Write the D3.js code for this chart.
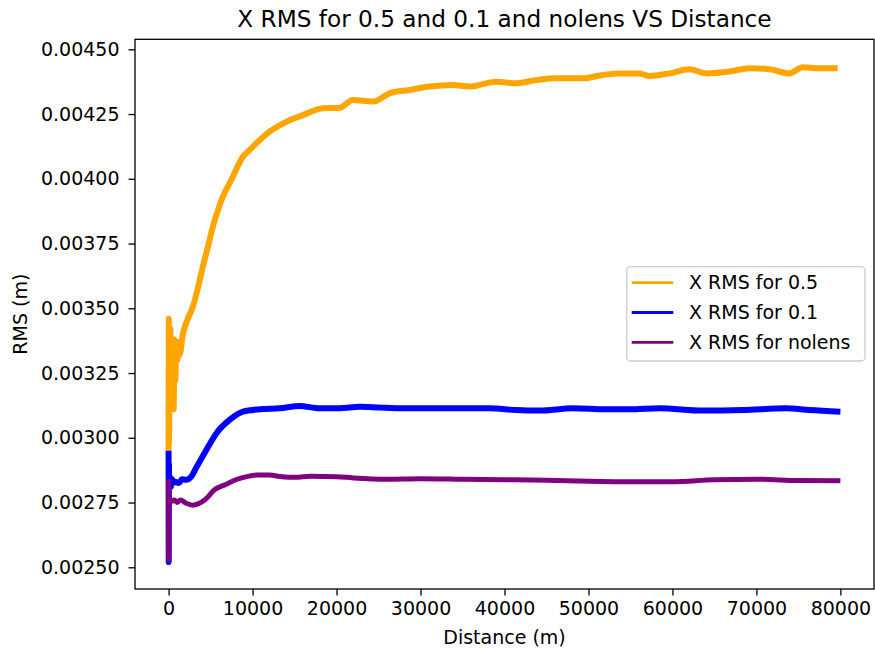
<!DOCTYPE html>
<html>
<head>
<meta charset="utf-8">
<script src="https://cdn.jsdelivr.net/npm/d3@7"></script>
<style>
  html, body { margin: 0; padding: 0; background: #fff; }
  svg { display: block; font-family: "DejaVu Sans", sans-serif; }
</style>
</head>
<body>
<svg id="chart" width="875" height="655"></svg>
<script>
// Distance (m) / RMS (m) pairs for each lens setting
const rms05 = [
  [0,0.00295],[25,0.00346],[60,0.00298],[110,0.00340],[170,0.00320],[220,0.00342],
  [280,0.00315],[340,0.00338],[420,0.00318],[500,0.00336],[600,0.00311],[700,0.00338],
  [800,0.00322],[900,0.00335],[1040,0.00330],[1150,0.00337],[1310,0.00332],[1700,0.00340],
  [2300,0.00346],[2890,0.003506],[3500,0.00358],[4080,0.003661],[4700,0.00374],
  [5270,0.003815],[5900,0.00388],[6460,0.003931],[7050,0.00397],[7650,0.004008],
  [8250,0.00405],[8850,0.004085],[9600,0.00411],[10440,0.004137],[12020,0.004182],
  [14010,0.00422],[15990,0.004246],[18370,0.004272],[20360,0.004274],[21940,0.004304],
  [24320,0.004298],[26310,0.00433],[28690,0.004343],[31070,0.004356],[33850,0.004362],
  [35830,0.004356],[39010,0.004375],[41390,0.004369],[43770,0.004381],[46150,0.004388],
  [49320,0.004388],[51700,0.004401],[53690,0.004407],[56070,0.004407],[57260,0.004397],
  [59640,0.004407],[62020,0.004423],[64010,0.004407],[66790,0.004414],[69170,0.004427],
  [71550,0.004423],[73930,0.004407],[75510,0.004431],[77500,0.004427],[79680,0.004427]
];
const rms01 = [
  [0,0.00295],[15,0.00252],[40,0.00290],[80,0.00281],[150,0.00285],[250,0.00281],
  [400,0.00284],[510,0.002825],[800,0.00283],[1200,0.002825],[1600,0.00284],[2100,0.002838],
  [2700,0.00285],[3300,0.002885],[4490,0.002953],[5680,0.003017],[7260,0.003069],
  [8850,0.003101],[10830,0.00311],[13210,0.003114],[15600,0.003123],[17980,0.003114],
  [20360,0.003114],[22740,0.00312],[25120,0.003117],[27500,0.003114],[30000,0.003114],
  [33000,0.003114],[38210,0.003114],[41390,0.003107],[44170,0.003105],[48130,0.003114],
  [52110,0.00311],[54880,0.00311],[58450,0.003114],[63610,0.003105],[68370,0.003107],
  [73540,0.003114],[76310,0.003107],[80000,0.003101]
];
const rmsNolens = [
  [0,0.00284],[10,0.00253],[30,0.00278],[80,0.00274],[200,0.00276],[400,0.002755],
  [700,0.00276],[1000,0.00275],[1400,0.00276],[2100,0.002747],[2900,0.00274],
  [3500,0.002745],[4300,0.00276],[5500,0.00280],[6800,0.00282],[8000,0.002838],
  [9300,0.00285],[10500,0.002856],[12000,0.002856],[13500,0.00285],[15000,0.002848],
  [17000,0.002852],[20000,0.00285],[22000,0.002845],[26000,0.00284],[30000,0.002842],
  [35000,0.00284],[40000,0.002838],[45000,0.002836],[50000,0.002832],[55000,0.00283],
  [60000,0.00283],[65000,0.002838],[70000,0.00284],[75000,0.002835],[80000,0.002834]
];

const seriesNames = ["X RMS for 0.5", "X RMS for 0.1", "X RMS for nolens"];
const seriesColors = ["orange", "blue", "purple"];
const xTicks = [0, 10000, 20000, 30000, 40000, 50000, 60000, 70000, 80000];
const yTicks = [0.0025, 0.00275, 0.003, 0.00325, 0.0035, 0.00375, 0.004, 0.00425, 0.0045];

const plot = { left: 135, right: 874, top: 39.3, bottom: 589 };

const svg = d3.select("#chart");

const x = d3.scaleLinear().domain([-4000, 84000]).range([plot.left, plot.right]);
const y = d3.scaleLinear().domain([0.0024162, 0.0045386]).range([plot.bottom, plot.top]);

svg.append("defs").append("clipPath").attr("id", "plot-clip")
  .append("rect")
  .attr("x", plot.left).attr("y", plot.top)
  .attr("width", plot.right - plot.left).attr("height", plot.bottom - plot.top);

// series lines
const line = d3.line().x(d => x(d[0])).y(d => y(d[1])).curve(d3.curveMonotoneX);
const allSeries = [rms05, rms01, rmsNolens];
const widths = [6, 6, 5];
const lines = svg.append("g").attr("clip-path", "url(#plot-clip)");
allSeries.forEach((s, i) => {
  lines.append("path")
    .datum(s)
    .attr("d", line)
    .attr("fill", "none")
    .attr("stroke", seriesColors[i])
    .attr("stroke-width", widths[i])
    .attr("stroke-linejoin", "round")
    .attr("stroke-linecap", "butt");
});

// axes
const xAxis = d3.axisBottom(x).tickValues(xTicks).tickFormat(d3.format("d")).tickSize(6.5).tickPadding(6);
const yAxis = d3.axisLeft(y).tickValues(yTicks).tickFormat(d3.format(".5f")).tickSize(6.5).tickPadding(9);

const gx = svg.append("g").attr("transform", `translate(0,${plot.bottom})`).call(xAxis);
const gy = svg.append("g").attr("transform", `translate(${plot.left},0)`).call(yAxis);
[gx, gy].forEach(g => {
  g.select(".domain").remove();
  g.selectAll(".tick line").attr("stroke", "#000").attr("stroke-width", 1.3);
  g.selectAll(".tick text").attr("fill", "#000").style("font-size", "19px").style("font-family", "DejaVu Sans");
});

// frame
svg.append("rect")
  .attr("x", plot.left).attr("y", plot.top)
  .attr("width", plot.right - plot.left).attr("height", plot.bottom - plot.top)
  .attr("fill", "none").attr("stroke", "#000").attr("stroke-width", 1.3);

// title and axis labels
svg.append("text")
  .attr("x", (plot.left + plot.right) / 2).attr("y", 27)
  .attr("text-anchor", "middle").style("font-size", "23.2px")
  .text("X RMS for 0.5 and 0.1 and nolens VS Distance");

svg.append("text")
  .attr("x", (plot.left + plot.right) / 2).attr("y", 644)
  .attr("text-anchor", "middle").style("font-size", "19px")
  .text("Distance (m)");

svg.append("text")
  .attr("transform", `translate(27,${(plot.top + plot.bottom) / 2}) rotate(-90)`)
  .attr("text-anchor", "middle").style("font-size", "19px")
  .text("RMS (m)");

// legend
const legend = svg.append("g").attr("transform", "translate(626.7,266.7)");
legend.append("rect")
  .attr("width", 238.3).attr("height", 94.3).attr("rx", 4)
  .attr("fill", "#fff").attr("fill-opacity", 0.8)
  .attr("stroke", "#cccccc").attr("stroke-width", 1.3);
seriesNames.forEach((name, i) => {
  const yy = 16 + i * 29.8;
  legend.append("line")
    .attr("x1", 5).attr("x2", 46.6).attr("y1", yy).attr("y2", yy)
    .attr("stroke", seriesColors[i]).attr("stroke-width", 2.8);
  legend.append("text")
    .attr("x", 62.3).attr("y", yy).attr("dy", "0.35em")
    .style("font-size", "19px")
    .text(name);
});
</script>
</body>
</html>
